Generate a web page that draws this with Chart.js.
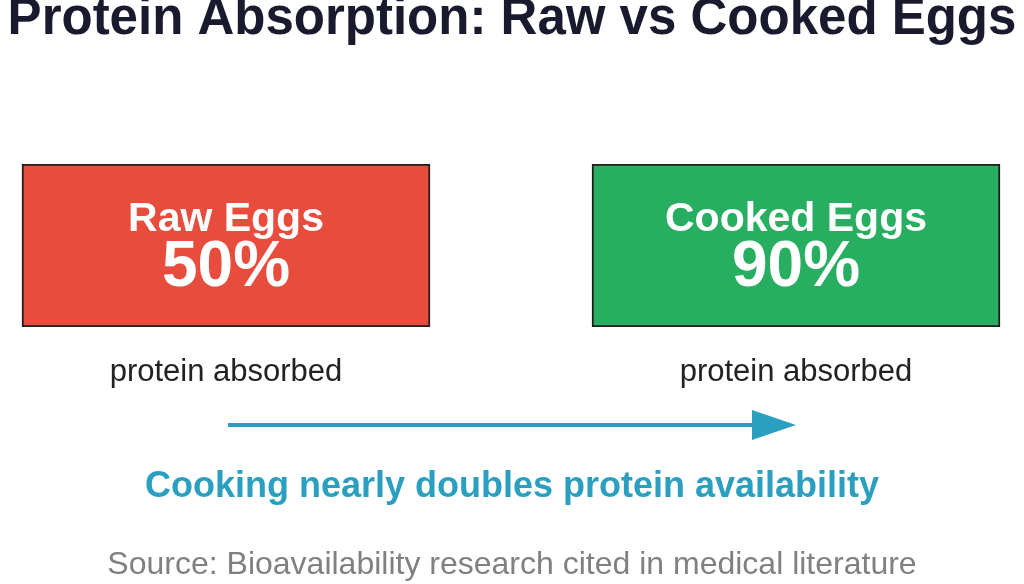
<!DOCTYPE html>
<html>
<head>
<meta charset="utf-8">
<script src="https://cdn.jsdelivr.net/npm/chart.js@4"></script>
<style>
  body { margin: 0; background: #fff; }
  #wrap { width: 1024px; height: 584px; }
</style>
</head>
<body>
<div id="wrap"><canvas id="myChart"></canvas></div>
<script>
const title = 'Protein Absorption: Raw vs Cooked Eggs'
const categories = ['Raw Eggs', 'Cooked Eggs']
const absorbed = [50, 90]
const boxSpans = [[22, 430], [592, 1000]]
const boxColors = ['#e74c3c', '#27ae60']
const subLabel = 'protein absorbed'
const arrowSpan = [228, 796]
const message = 'Cooking nearly doubles protein availability'
const source = 'Source: Bioavailability research cited in medical literature'

const FONT = '"Liberation Sans", Arial, sans-serif'

const textPlugin = {
    id: 'texts',
    afterDraw(chart) {
        const ctx = chart.ctx
        const xs = chart.scales.x
        ctx.save()
        ctx.textAlign = 'center'
        ctx.textBaseline = 'middle'

        ctx.fillStyle = '#1a1a2e'
        ctx.font = 'bold 51px ' + FONT
        ctx.fillText(title, 512, 20)

        boxSpans.forEach((span, i) => {
            const cx = xs.getPixelForValue((span[0] + span[1]) / 2)
            ctx.fillStyle = '#fff'
            ctx.font = 'bold 41px ' + FONT
            ctx.fillText(categories[i], cx, 220)
            ctx.font = 'bold 64px ' + FONT
            ctx.fillText(absorbed[i] + '%', cx, 268)
            ctx.fillStyle = '#222'
            ctx.font = '31px ' + FONT
            ctx.fillText(subLabel, cx, 372)
        })

        // arrow
        const x0 = xs.getPixelForValue(arrowSpan[0])
        const x1 = xs.getPixelForValue(arrowSpan[1])
        ctx.strokeStyle = '#2a9fbf'
        ctx.fillStyle = '#2a9fbf'
        ctx.lineWidth = 4
        ctx.beginPath()
        ctx.moveTo(x0, 425)
        ctx.lineTo(x1 - 40, 425)
        ctx.stroke()
        ctx.beginPath()
        ctx.moveTo(x1, 425)
        ctx.lineTo(x1 - 44, 410)
        ctx.lineTo(x1 - 44, 440)
        ctx.closePath()
        ctx.fill()

        ctx.font = 'bold 36px ' + FONT
        ctx.fillText(message, 512, 487)

        ctx.fillStyle = '#808080'
        ctx.font = '32px ' + FONT
        ctx.fillText(source, 512, 565)
        ctx.restore()
    }
}

new Chart(document.getElementById('myChart'), {
    type: 'bar',
    data: {
        labels: ['row'],
        datasets: [{
            data: boxSpans.map(s => ({ x: s, y: 'row' })),
            backgroundColor: boxColors,
            borderColor: '#1e1e1e',
            borderWidth: 2,
            borderSkipped: false,
            barPercentage: 1,
            categoryPercentage: 1
        }]
    },
    options: {
        indexAxis: 'y',
        responsive: true,
        maintainAspectRatio: false,
        animation: false,
        layout: { padding: { top: 164, bottom: 257, left: 0, right: 0 } },
        scales: {
            x: { type: 'linear', min: 0, max: 1024, display: false },
            y: { display: false }
        },
        plugins: { legend: { display: false }, tooltip: { enabled: false } }
    },
    plugins: [textPlugin]
})
</script>
</body>
</html>
